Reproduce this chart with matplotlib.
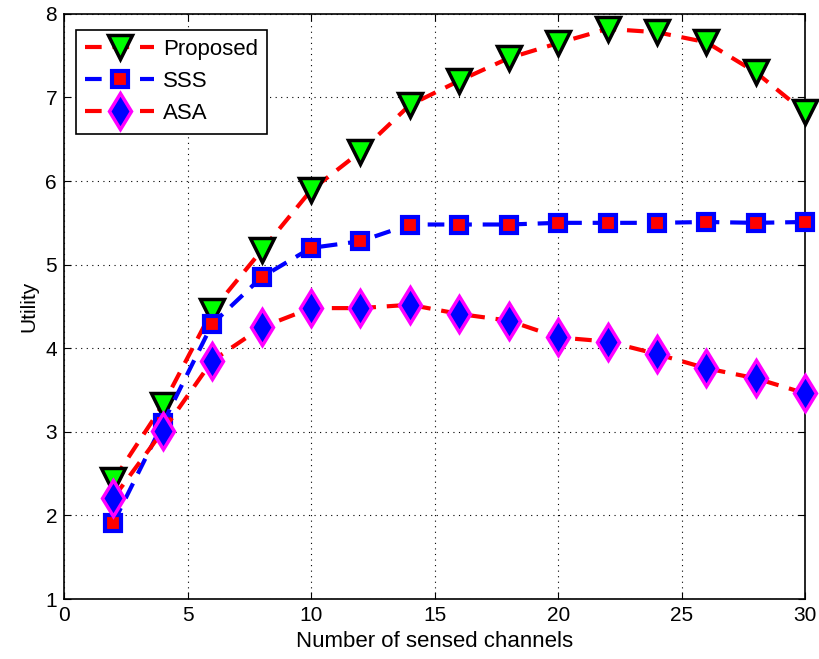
import matplotlib
matplotlib.use("Agg")
import matplotlib.pyplot as plt

plt.rcParams['font.family'] = ['Liberation Sans', 'DejaVu Sans']

x = [2, 4, 6, 8, 10, 12, 14, 16, 18, 20, 22, 24, 26, 28, 30]
proposed = [2.42, 3.32, 4.45, 5.17, 5.89, 6.35, 6.91, 7.20, 7.47, 7.65, 7.82, 7.78, 7.66, 7.30, 6.82]
sss = [1.91, 3.10, 4.29, 4.85, 5.20, 5.28, 5.48, 5.48, 5.48, 5.50, 5.50, 5.50, 5.51, 5.50, 5.51]
asa = [2.21, 3.01, 3.85, 4.25, 4.48, 4.48, 4.52, 4.41, 4.33, 4.13, 4.08, 3.93, 3.76, 3.64, 3.46]

xticks = [0, 5, 10, 15, 20, 25, 30]
yticks = [1, 2, 3, 4, 5, 6, 7, 8]

fig = plt.figure(figsize=(8.2, 6.59), dpi=100)
ax = fig.add_axes([0.078, 0.091, 0.904, 0.888])

dash = (0, (4, 2.6))
ax.plot(x, proposed, linestyle=dash, color='red', linewidth=3,
        marker='v', markersize=17, markerfacecolor='#00ff00',
        markeredgecolor='black', markeredgewidth=2.5, label='Proposed',
        clip_on=False, zorder=3)
ax.plot(x, sss, linestyle=dash, color='blue', linewidth=3,
        marker='s', markersize=12, markerfacecolor='red',
        markeredgecolor='blue', markeredgewidth=3, label='SSS',
        clip_on=False, zorder=4)
ax.plot(x, asa, linestyle=dash, color='red', linewidth=3,
        marker='d', markersize=18, markerfacecolor='blue',
        markeredgecolor='magenta', markeredgewidth=2.5, label='ASA',
        clip_on=False, zorder=5)

ax.set_xlim(0, 30)
ax.set_ylim(1, 8)
ax.set_xticks(xticks)
ax.set_yticks(yticks)
ax.tick_params(direction='in', top=True, right=True, labelsize=15, length=5, pad=5)
ax.grid(True, linestyle=(0, (1, 4)), color='black', linewidth=0.8)
for s in ax.spines.values():
    s.set_linewidth(1.2)

ax.set_xlabel('Number of sensed channels', fontsize=16, labelpad=4)
ax.set_ylabel('Utility', fontsize=15, labelpad=5)

leg = ax.legend(loc='upper left', fontsize=16, fancybox=False, framealpha=1,
                edgecolor='black', borderpad=0.42, handlelength=3.1,
                handletextpad=0.4, labelspacing=0.5, borderaxespad=0,
                bbox_to_anchor=(0.016, 0.973))
leg.get_frame().set_linewidth(1.2)
leg.set_zorder(10)

fig.savefig('out.png', dpi=100)
